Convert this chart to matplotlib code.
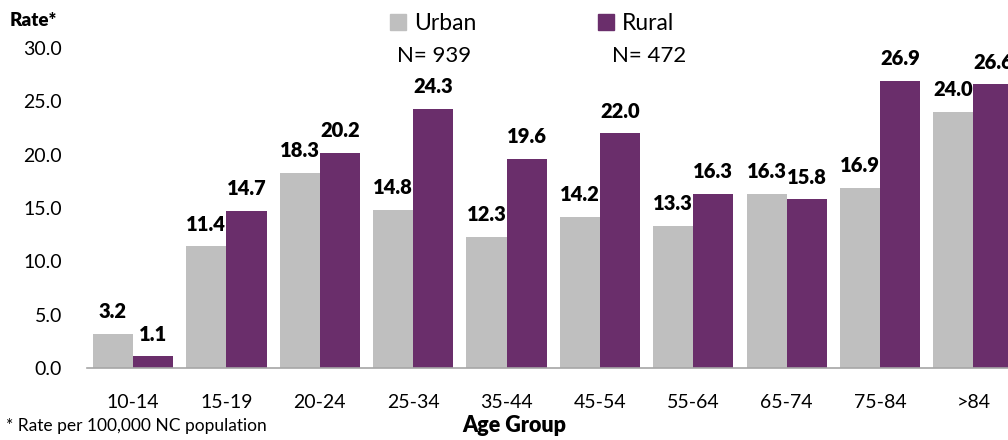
import numpy as np
import matplotlib.pyplot as plt
from matplotlib.patches import Patch

plt.rcParams['font.family'] = ['Lato', 'DejaVu Sans']

# data
age_groups = ["10-14", "15-19", "20-24", "25-34", "35-44", "45-54", "55-64", "65-74", "75-84", ">84"]
urban = [3.2, 11.4, 18.3, 14.8, 12.3, 14.2, 13.3, 16.3, 16.9, 24.0]
rural = [1.1, 14.7, 20.2, 24.3, 19.6, 22.0, 16.3, 15.8, 26.9, 26.6]
n_urban = 939
n_rural = 472

urban_col = "#BFBFBF"
rural_col = "#6A2E6B"

fig = plt.figure(figsize=(10.08, 4.40), dpi=100)
ax = fig.add_axes([87/1008, 72/440, 1 - 87/1008, (368-48)/440])

x = np.arange(len(age_groups))
w = 0.43
b1 = ax.bar(x - w/2, urban, w, color=urban_col)
b2 = ax.bar(x + w/2, rural, w, color=rural_col)

for bars, vals in [(b1, urban), (b2, rural)]:
    for b, v in zip(bars, vals):
        ax.annotate(f"{v:.1f}", (b.get_x() + b.get_width()/2, v),
                    xytext=(0, 16), textcoords="offset points",
                    ha="center", va="center", fontsize=14.5, fontweight="heavy",
                    annotation_clip=False, clip_on=False)

ax.set_xlim(-0.493, 9.37)
ax.set_ylim(0, 30)
ax.set_yticks(np.arange(0, 30.1, 5))
ax.set_yticklabels([f"{t:.1f}" for t in np.arange(0, 30.1, 5)])
ax.set_xticks(x)
ax.set_xticklabels(age_groups)
ax.tick_params(axis="both", length=0, labelsize=14)
ax.tick_params(axis="y", pad=18)
ax.tick_params(axis="x", pad=19)
for s in ["top", "right", "left"]:
    ax.spines[s].set_visible(False)
ax.spines["bottom"].set_color("#A6A6A6")
ax.spines["bottom"].set_linewidth(1.2)

fig.text(10/1008, 1 - 20/440, "Rate*", fontsize=13.5, fontweight="heavy", va="center")
fig.text(6/1008, 1 - 426/440, "* Rate per 100,000 NC population", fontsize=12.5, va="center")
fig.text(514/1008, 1 - 425/440, "Age Group", fontsize=15.5, fontweight="heavy", va="center", ha="center")

handles = [Patch(color=urban_col, label="Urban"), Patch(color=rural_col, label="Rural")]
fig.legend(handles=handles, loc="center left", bbox_to_anchor=(390/1008, 1 - 24/440),
           ncol=2, frameon=False, fontsize=16.5, handlelength=0.7, handleheight=0.7,
           handletextpad=0.35, columnspacing=5.3, borderaxespad=0, borderpad=0)
fig.text(397/1008, 1 - 56/440, f"N= {n_urban}", fontsize=16, va="center")
fig.text(612/1008, 1 - 56/440, f"N= {n_rural}", fontsize=16, va="center")

fig.savefig("out.png", dpi=100)
